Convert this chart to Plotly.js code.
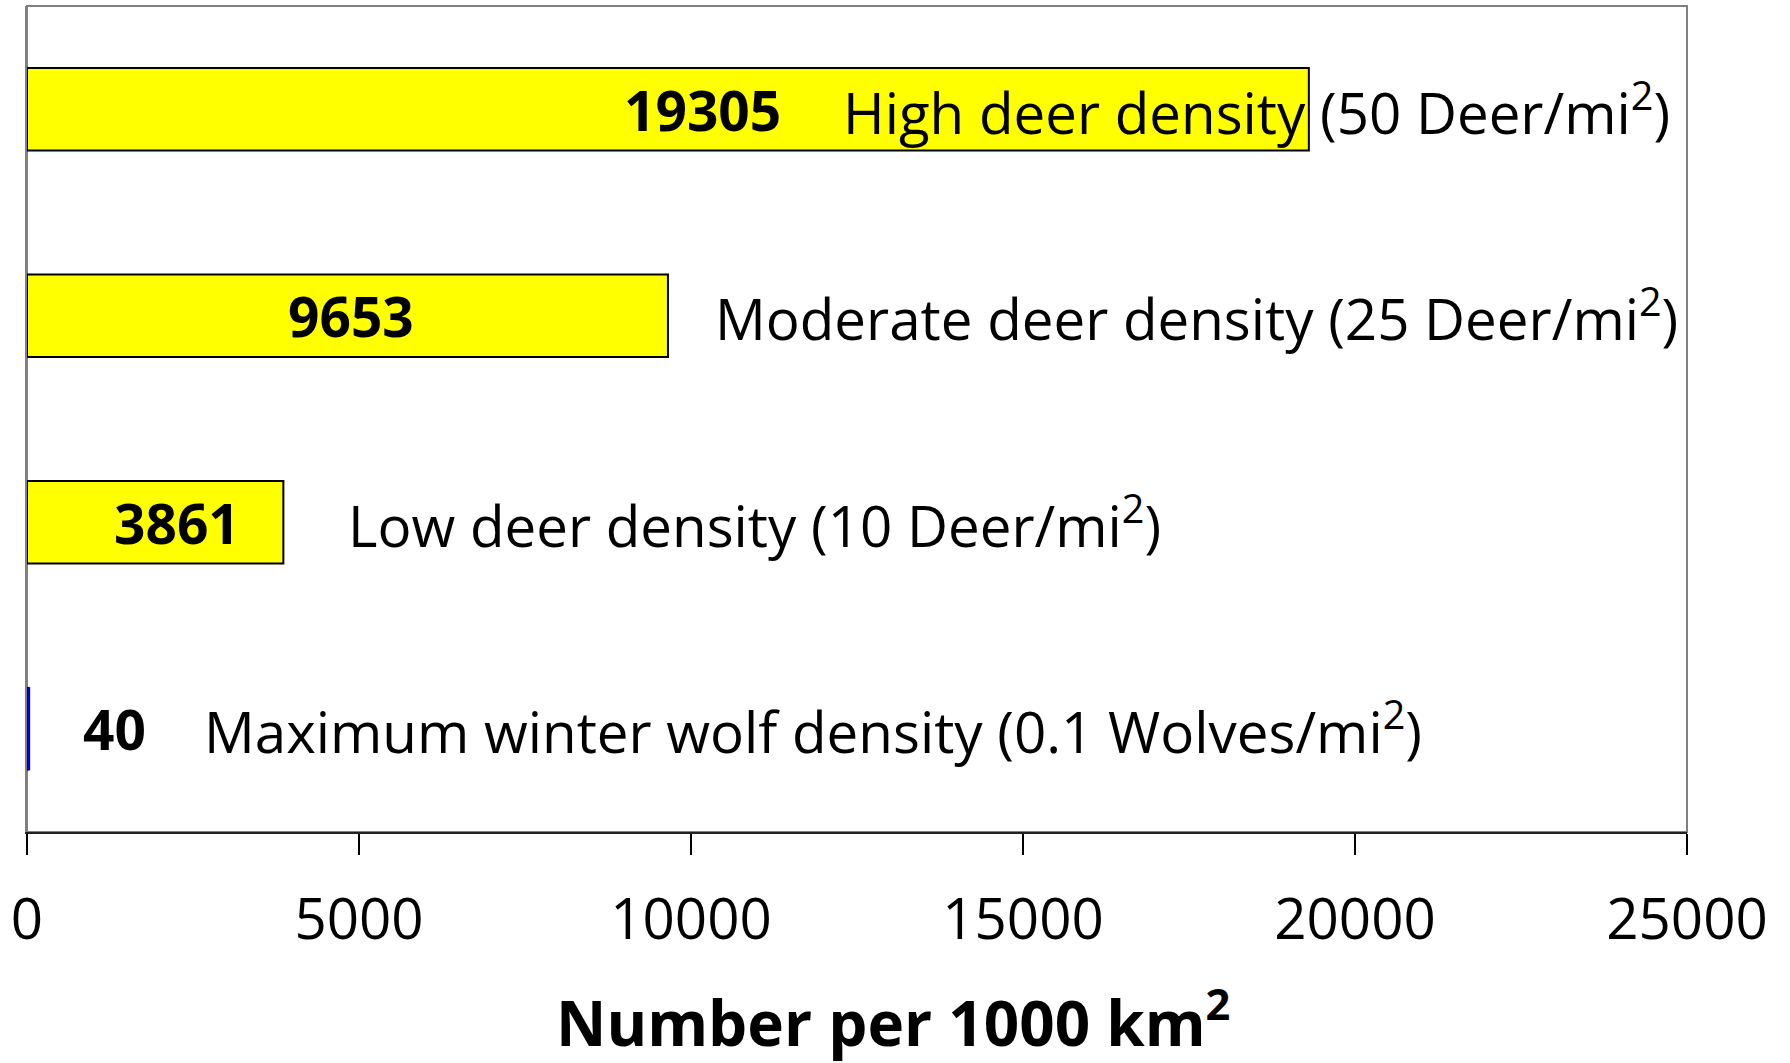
<!DOCTYPE html>
<html>
<head>
<meta charset="utf-8">
<script src="https://cdn.plot.ly/plotly-3.0.1.min.js"></script>
<style>html,body{margin:0;padding:0;background:#fff;}#chart{width:1790px;height:1063px;}</style>
</head>
<body>
<div id="chart"></div>
<script>
// ---- data ----
const categories = ["High", "Moderate", "Low", "Wolf"];
const values = [19305, 9653, 3861, 40];
const valueLabels = ["19305", "9653", "3861", "40"];
const descriptions = [
  "High deer density (50 Deer/mi<sup>2</sup>)",
  "Moderate deer density (25 Deer/mi<sup>2</sup>)",
  "Low deer density (10 Deer/mi<sup>2</sup>)",
  "Maximum winter wolf density (0.1 Wolves/mi<sup>2</sup>)"
];
const barColors = ["#FFFF00", "#FFFF00", "#FFFF00", "#0000FF"];
const tickVals = [0, 5000, 10000, 15000, 20000, 25000];
const tickText = ["0", "5000", "10000", "15000", "20000", "25000"];
const xTitle = "Number per 1000 km<sup>2</sup>";

// ---- layout positions (x positions of text, in axis units) ----
const valueRight = [11386, 5858, 3238, 1822];
const descLeft = [12259, 10331, 4804, 2636];

const FONT = "Open Sans, Noto Sans, sans-serif";

const trace = {
  type: "bar",
  orientation: "h",
  x: values,
  y: categories,
  width: 0.4,
  marker: { color: barColors, line: { color: "#000", width: [2, 2, 2, 1] } },
  hoverinfo: "skip"
};

const annotations = [];
for (let i = 0; i < categories.length; i++) {
  annotations.push({
    x: valueRight[i], y: categories[i], xref: "x", yref: "y",
    text: "<b>" + valueLabels[i] + "</b>", showarrow: false,
    xanchor: "right", yanchor: "middle",
    font: { family: FONT, size: 55, color: "#000" }
  });
  annotations.push({
    x: descLeft[i], y: categories[i], xref: "x", yref: "y",
    text: descriptions[i], showarrow: false,
    xanchor: "left", yanchor: "middle",
    font: { family: FONT, size: 56.5, color: "#000" }
  });
}
// x-axis title (placed as paper annotation to match its offset)
annotations.push({
  x: 0.5217, y: -0.226, xref: "paper", yref: "paper",
  text: "<b>" + xTitle + "</b>", showarrow: false,
  xanchor: "center", yanchor: "middle",
  font: { family: FONT, size: 62, color: "#000" }
});

const layout = {
  width: 1790, height: 1063,
  margin: { l: 27, r: 103, t: 6, b: 231 },
  paper_bgcolor: "#fff", plot_bgcolor: "#fff",
  showlegend: false,
  xaxis: {
    range: [0, 25000],
    tickvals: tickVals, ticktext: tickText,
    ticks: "outside", ticklen: 21, tickwidth: 1.5, tickcolor: "#000",
    ticklabelstandoff: 16,
    showline: true, linecolor: "#222", linewidth: 2,
    showgrid: false, zeroline: false,
    tickfont: { family: FONT, size: 56.5, color: "#000" }
  },
  yaxis: {
    type: "category",
    categoryorder: "array", categoryarray: categories,
    autorange: "reversed",
    showticklabels: false, ticks: "",
    showline: true, linecolor: "#808080", linewidth: 2,
    showgrid: false, zeroline: false
  },
  shapes: [{
    type: "rect", xref: "paper", yref: "paper", x0: 0, x1: 1, y0: 0, y1: 1,
    line: { color: "#808080", width: 2 }, layer: "below"
  }],
  annotations: annotations
};

Plotly.newPlot("chart", [trace], layout, { displayModeBar: false, staticPlot: true });
</script>
</body>
</html>
